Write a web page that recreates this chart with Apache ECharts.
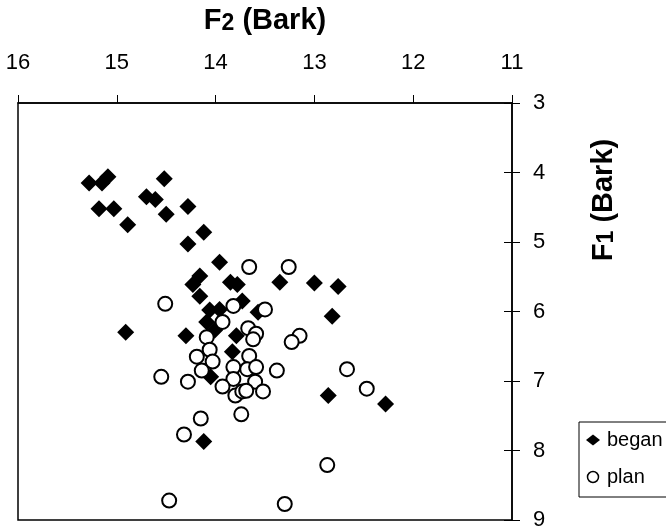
<!DOCTYPE html>
<html>
<head>
<meta charset="utf-8">
<script src="https://cdn.jsdelivr.net/npm/echarts@6/dist/echarts.min.js"></script>
<style>
  html, body { margin: 0; padding: 0; background: #fff }
  #chart { width: 666px; height: 531px }
</style>
</head>
<body>
<div id="chart"></div>
<script>
// F2 / F1 values (Bark)
const beganF2 = [15.28, 15.15, 15.09, 14.52, 14.70, 14.61, 15.18, 15.03, 14.50, 14.28, 14.89, 14.12, 14.28,
  13.96, 14.16, 14.23, 13.85, 13.78, 13.35, 13.00, 12.76, 14.16, 13.73, 14.06, 13.96, 13.57, 12.82,
  14.09, 14.01, 14.91, 14.30, 13.79, 13.83, 14.05, 12.86, 12.28, 14.12]
const beganF1 = [4.15, 4.15, 4.06, 4.09, 4.35, 4.39, 4.52, 4.52, 4.60, 4.49, 4.75, 4.86, 5.03,
  5.29, 5.49, 5.61, 5.58, 5.61, 5.58, 5.59, 5.64, 5.78, 5.85, 5.98, 5.97, 6.01, 6.07,
  6.15, 6.27, 6.30, 6.35, 6.35, 6.58, 6.94, 7.21, 7.33, 7.87]

const planF2 = [13.66, 13.26, 14.51, 13.82, 13.50, 13.93, 13.67, 13.59, 13.62, 13.15, 13.23, 14.09, 14.06,
  14.19, 14.03, 13.66, 13.82, 13.68, 13.59, 14.14, 13.38, 13.82, 14.55, 14.28, 13.93, 13.60, 13.80,
  13.73, 13.69, 13.52, 13.74, 14.15, 14.32, 12.67, 12.47, 12.87, 13.30, 14.47]
const planF1 = [5.36, 5.36, 5.89, 5.92, 5.97, 6.15, 6.24, 6.32, 6.40, 6.35, 6.44, 6.37, 6.55,
  6.65, 6.72, 6.64, 6.80, 6.83, 6.80, 6.85, 6.85, 6.97, 6.94, 7.01, 7.08, 7.01, 7.21,
  7.15, 7.14, 7.15, 7.48, 7.54, 7.77, 6.83, 7.11, 8.21, 8.77, 8.72]

const seriesNames = ["began", "plan"]
const xRange = [11, 16]
const yRange = [3, 9]

const font = "'Liberation Sans', Arial, sans-serif"

const zip = (a, b) => a.map((v, i) => [v, b[i]])

const titleStyle = (text) => ({
  text: text,
  fontSize: 29, fontWeight: "bold", fontFamily: font, fill: "#000",
  align: "center", verticalAlign: "middle",
  rich: { s: { fontSize: 23, fontWeight: "bold", fontFamily: font, verticalAlign: "bottom", padding: [5, 0, 0, 0] } }
})

const chart = echarts.init(document.getElementById("chart"))

chart.setOption({
  animation: false,
  backgroundColor: "#fff",
  grid: {
    left: 18, top: 103, width: 494, height: 419,
    show: true, borderColor: "#000", borderWidth: 1.5, backgroundColor: "transparent"
  },
  xAxis: {
    type: "value", position: "top", inverse: true,
    min: xRange[0], max: xRange[1], interval: 1,
    axisLine: { show: true, lineStyle: { color: "#000", width: 1.5 } },
    axisTick: { show: true, length: 8, lineStyle: { color: "#000", width: 1 } },
    axisLabel: { margin: 29, color: "#000", fontSize: 22, fontFamily: font },
    splitLine: { show: false }
  },
  yAxis: [
    {
      type: "value", position: "right", inverse: true,
      min: yRange[0], max: yRange[1], interval: 1,
      axisLine: { show: true, lineStyle: { color: "#000", width: 1.5 } },
      axisTick: { show: true, length: 8, lineStyle: { color: "#000", width: 1 } },
      axisLabel: { margin: 21, color: "#000", fontSize: 22, fontFamily: font },
      splitLine: { show: false }
    },
    {
      type: "value", position: "right", inverse: true,
      min: yRange[0], max: yRange[1], interval: 1,
      axisLine: { show: false },
      axisTick: { show: true, inside: true, length: 8, lineStyle: { color: "#000", width: 1 } },
      axisLabel: { show: false },
      splitLine: { show: false }
    }
  ],
  legend: {
    orient: "vertical", left: 579, top: 422,
    padding: [6, 40, 8, 7],
    borderColor: "#000", borderWidth: 1,
    itemWidth: 14, itemHeight: 11, itemGap: 13,
    textStyle: { color: "#000", fontSize: 20, fontFamily: font, lineHeight: 24, padding: [0, 0, 0, 2] },
    data: [
      { name: seriesNames[0], icon: "diamond" },
      { name: seriesNames[1], icon: "circle", itemStyle: { borderWidth: 1.5 } }
    ]
  },
  graphic: [
    { type: "text", x: 265, y: 21, style: titleStyle("F{s|2} (Bark)") },
    { type: "text", x: 604, y: 200, rotation: Math.PI / 2, style: titleStyle("F{s|1} (Bark)") }
  ],
  series: [
    {
      name: seriesNames[0], type: "scatter", symbol: "diamond", symbolSize: 17,
      itemStyle: { color: "#000", opacity: 1 },
      data: zip(beganF2, beganF1)
    },
    {
      name: seriesNames[1], type: "scatter", symbol: "circle", symbolSize: 14,
      itemStyle: { color: "#fff", borderColor: "#000", borderWidth: 2, opacity: 1 },
      data: zip(planF2, planF1)
    }
  ]
})
</script>
</body>
</html>
